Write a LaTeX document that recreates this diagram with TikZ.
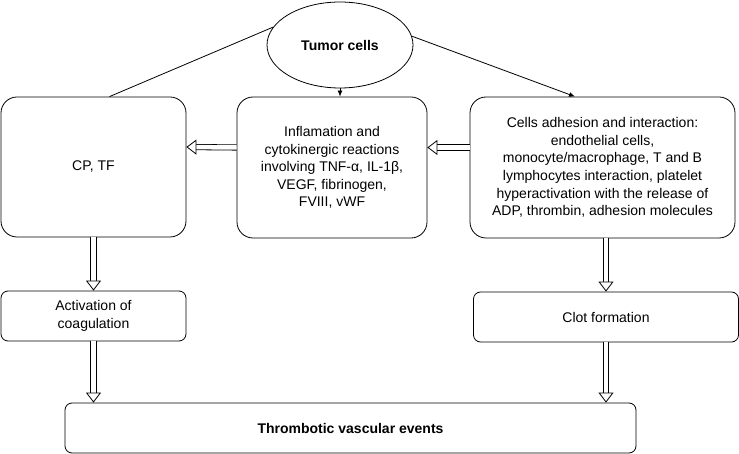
\documentclass[tikz,border=0pt]{standalone}
\usepackage{fontspec}
\setmainfont{Liberation Sans}
\usepackage{tikz}
\usetikzlibrary{shapes.geometric,arrows.meta}

% hollow double arrow: shaft first, then the open head on top
\newcommand\hollowarrow[2]{%
  \path [shaft] #1 -- #2;
  \path [head] #1 -- #2;}

\begin{document}
\begin{tikzpicture}[x=1pt,y=-1pt,line width=0.8pt,
  box/.style={draw,rounded corners=#1,align=center,inner sep=2pt},
  box/.default=7pt,
  shaft/.style={draw,double,double distance=4.5pt,line width=0.8pt,shorten >=9pt},
  head/.style={draw=white,line width=0.5pt,
    -{Triangle[length=10pt,width=15pt,line width=0.8pt,color=black,fill=white]}},
  thin/.style={draw,line width=0.8pt,-{Latex[length=6pt,width=5pt]}}]
\fontsize{14}{17.6}\selectfont
\useasboundingbox (0,0) rectangle (739,454);
\node [ellipse,draw,minimum width=146pt,minimum height=86pt] (tumor) at (340,45) {\textbf{Tumor cells}};
\node [box=16pt,minimum width=185pt,minimum height=140pt] (cp) at (93.5,167) {CP, TF};
\node [box=16pt,minimum width=190pt,minimum height=141pt] (infl) at (332,167.5)
  {Inflamation and\\ cytokinergic reactions\\ involving TNF-α, IL-1β,\\ VEGF, fibrinogen,\\ FVIII, vWF};
\node [box=16pt,minimum width=265pt,minimum height=141pt] (adh) at (602.5,167.5)
  {Cells adhesion and interaction:\\ endothelial cells,\\ monocyte/macrophage, T and B\\ lymphocytes interaction, platelet\\ hyperactivation with the release of\\ ADP, thrombin, adhesion molecules};
\node [box,minimum width=185pt,minimum height=50pt] (coag) at (93.5,316) {Activation of\\ coagulation};
\node [box,minimum width=265pt,minimum height=50pt] (clot) at (606,317) {Clot formation};
\node [box,minimum width=571pt,minimum height=50pt] (tve) at (350.5,428) {\textbf{Thrombotic vascular events}};
% from the tumor cells
\draw (tumor.165) -- ([xshift=16pt]cp.north);
\path [thin] (tumor.south) -- (tumor.south |- infl.north);
\path [thin] (tumor.7) -- ([xshift=-27.5pt]adh.north);
% hollow arrows
\hollowarrow{([yshift=20pt]infl.west)}{([yshift=20pt]cp.east)}
\hollowarrow{([yshift=20pt]adh.west)}{([yshift=20pt]infl.east)}
\hollowarrow{(cp.south)}{(coag.north)}
\hollowarrow{(coag.south)}{(coag.south |- tve.north)}
\hollowarrow{(clot.north |- adh.south)}{(clot.north)}
\hollowarrow{(clot.south)}{(clot.south |- tve.north)}
\end{tikzpicture}
\end{document}
